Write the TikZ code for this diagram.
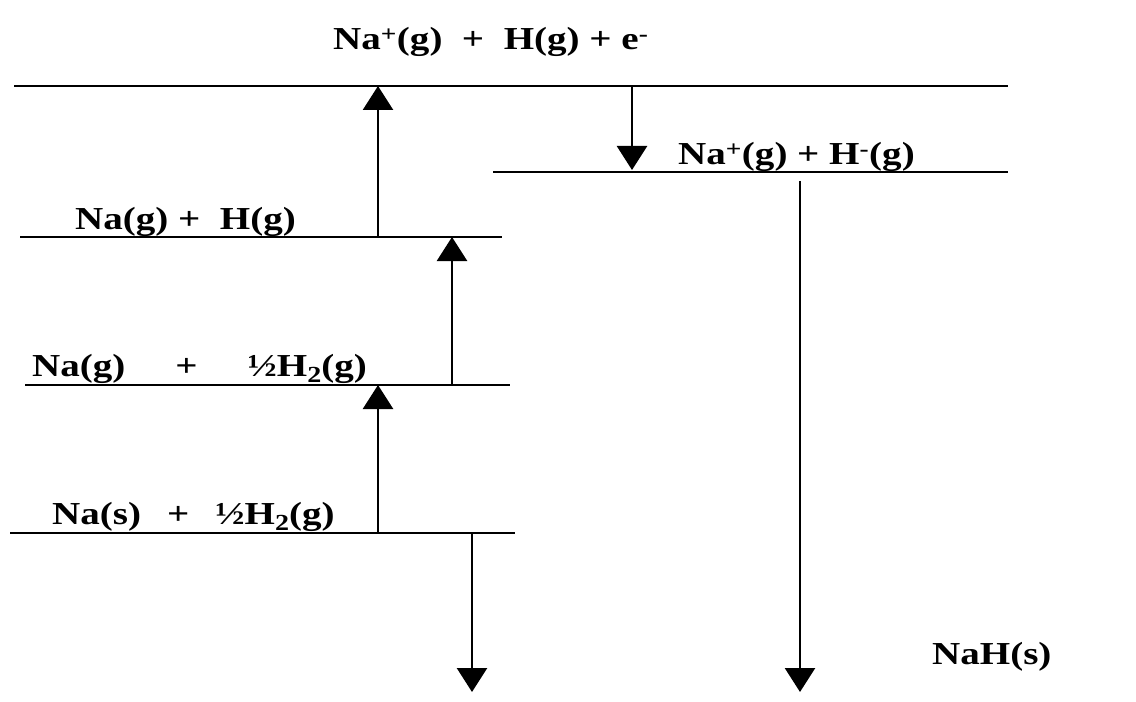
\documentclass[tikz,border=0pt]{standalone}
\usepackage{fontspec}
\setmainfont{Liberation Serif}[FakeStretch=1.22]
\usetikzlibrary{arrows.meta}
\newcommand{\subtwo}{\raisebox{-0.2em}{\fontsize{23bp}{23bp}\selectfont 2}}
\begin{document}
\begin{tikzpicture}[x=1bp,y=-1bp,
  level/.style={line width=1.9bp},
  jump/.style={line width=2.6bp,-{Triangle[width=30bp,length=24bp]}},
  lbl/.style={inner sep=0pt,anchor=base west,font=\fontsize{32bp}{38bp}\selectfont\bfseries}]
\useasboundingbox (0,0) rectangle (1136,702);
% level lines
\coordinate (L1w) at (14,86);   \coordinate (L1e) at (1008,86);
\coordinate (L2w) at (493,172); \coordinate (L2e) at (1008,172);
\coordinate (L3w) at (20,237);  \coordinate (L3e) at (502,237);
\coordinate (L4w) at (25,385);  \coordinate (L4e) at (510,385);
\coordinate (L5w) at (10,533);  \coordinate (L5e) at (515,533);
\draw[level] (L1w) -- (L1e);
\draw[level] (L2w) -- (L2e);
\draw[level] (L3w) -- (L3e);
\draw[level] (L4w) -- (L4e);
\draw[level] (L5w) -- (L5e);
% labels
\node[lbl] (t1) at (333,50) {Na\textsuperscript{+}(g)\ \ +\ \ H(g) + e\textsuperscript{-}};
\node[lbl] (t2) at (678,165) {Na\textsuperscript{+}(g) + H\textsuperscript{-}(g)};
\node[lbl] (t3) at (75,229) {Na(g) +\ \ H(g)};
\node[lbl] (t4) at (32,376) {Na(g)\hspace{50bp}+\hspace{50bp}½H\subtwo(g)};
\node[lbl] (t5) at (52,524) {Na(s)\hspace{26bp}+\hspace{26bp}½H\subtwo(g)};
\node[lbl] (t6) at (932,664) {NaH(s)};
% arrow end points
\coordinate (a1s) at (378,533); \coordinate (a1e) at (378,385);
\coordinate (a2s) at (452,385); \coordinate (a2e) at (452,237);
\coordinate (a3s) at (378,237); \coordinate (a3e) at (378,86);
\coordinate (a4s) at (632,86);  \coordinate (a4e) at (632,170);
\coordinate (a5s) at (800,181); \coordinate (a5e) at (800,692);
\coordinate (a6s) at (472,533); \coordinate (a6e) at (472,692);
\draw[jump] (a1s) -- (a1e);
\draw[jump] (a2s) -- (a2e);
\draw[jump] (a3s) -- (a3e);
\draw[jump] (a4s) -- (a4e);
\draw[jump] (a5s) -- (a5e);
\draw[jump] (a6s) -- (a6e);
\end{tikzpicture}
\end{document}
